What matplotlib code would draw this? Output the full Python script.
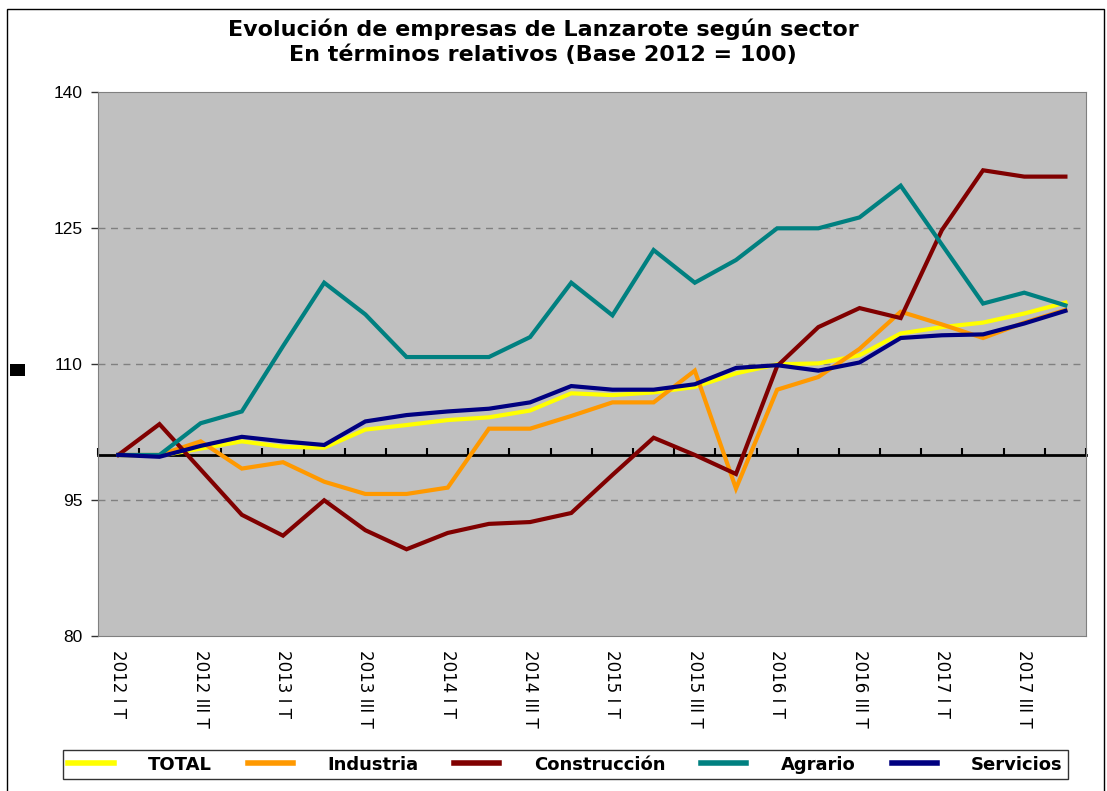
import matplotlib
matplotlib.use("Agg")
import matplotlib.pyplot as plt
from matplotlib.patches import Rectangle

# trimestres 2012 I T ... 2017 IV T
years = [2012, 2013, 2014, 2015, 2016, 2017]
quarters = ["I", "II", "III", "IV"]
categories = [f"{y} {q} T" for y in years for q in quarters]

total = [100, 99.9, 100.7, 101.5, 100.9, 100.8, 102.8, 103.3, 103.85, 104.15, 104.9, 106.8,
         106.6, 106.9, 107.5, 109.0, 110.0, 110.1, 111.0, 113.4, 114.1, 114.6, 115.6, 116.8]
industria = [100, 100, 101.5, 98.5, 99.2, 97.05, 95.7, 95.7, 96.4, 102.9, 102.9, 104.3,
             105.8, 105.8, 109.3, 96.3, 107.2, 108.6, 111.7, 115.8, 114.4, 112.9, 114.6, 116.0]
construccion = [100, 103.4, 98.4, 93.4, 91.1, 95.0, 91.7, 89.6, 91.4, 92.4, 92.6, 93.6,
                97.8, 101.9, 100.0, 97.9, 109.8, 114.1, 116.2, 115.1, 124.8, 131.4, 130.7, 130.7]
agrario = [100, 100, 103.5, 104.8, 112.0, 119.0, 115.5, 110.8, 110.8, 110.8, 113.0, 119.0,
           115.4, 122.6, 119.0, 121.5, 125.0, 125.0, 126.2, 129.7, 123.2, 116.7, 117.9, 116.5]
servicios = [100, 99.8, 101.0, 102.0, 101.5, 101.1, 103.7, 104.4, 104.8, 105.1, 105.8, 107.6,
             107.2, 107.2, 107.8, 109.6, 109.9, 109.3, 110.2, 112.9, 113.2, 113.3, 114.5, 115.9]

series = [("TOTAL", total, "#FFFF00"),
          ("Industria", industria, "#FF9900"),
          ("Construcción", construccion, "#800000"),
          ("Agrario", agrario, "#008080"),
          ("Servicios", servicios, "#000080")]

yticks = [80, 95, 110, 125, 140]

W, H = 1107, 791
fig = plt.figure(figsize=(W / 100, H / 100), dpi=100)
ax = fig.add_axes([97.7 / W, 1 - 636.3 / H, (1086 - 97.7) / W, (636.3 - 92.3) / H])
ax.set_facecolor("#C0C0C0")

x = list(range(len(categories)))
handles = []
for name, vals, col in series:
    h, = ax.plot(x, vals, color=col, lw=3, label=name, solid_joinstyle="miter", zorder=3)
    handles.append(h)

ax.set_xlim(-0.5, len(categories) - 0.5)
ax.set_ylim(80, 140)
ax.set_yticks(yticks)
for v in yticks[1:-1]:
    ax.axhline(v, color="#808080", lw=1, ls=(0, (5, 4)), zorder=1)

for s in ["top", "right", "left"]:
    ax.spines[s].set_color("#808080")
ax.spines["bottom"].set_position(("data", 100))
ax.spines["bottom"].set_color("black")
ax.spines["bottom"].set_linewidth(2)
ax.spines["bottom"].set_zorder(2)
ax.set_xticks([i - 0.5 for i in range(len(categories) + 1)])
ax.tick_params(axis="x", direction="in", length=5, width=1.5, color="black", labelbottom=False)
ax.tick_params(axis="y", direction="out", length=5, width=1, color="#333333", pad=6,
               labelsize=12.5)
for t in ax.get_yticklabels():
    t.set_fontfamily("Liberation Sans")

sec = ax.secondary_xaxis("bottom")
sec.spines["bottom"].set_color("#808080")
sec.set_xticks(x[::2])
sec.set_xticklabels(categories[::2], rotation=270, fontsize=12, va="top", ha="center")
sec.tick_params(length=0, pad=10)

fig.text(543 / W, 1 - 42 / H, "Evolución de empresas de Lanzarote según sector\n"
         "En términos relativos (Base 2012 = 100)", ha="center", va="center",
         fontsize=16, fontweight="bold", linespacing=1.3)

leg = fig.legend(handles=handles, loc="lower left", ncol=5, mode="expand",
                 bbox_to_anchor=(63 / W, 1 - 779 / H, 1005 / W, 32 / H),
                 prop={"weight": "bold", "size": 13}, frameon=True, fancybox=False,
                 edgecolor="black", handlelength=2.5, handletextpad=1.9,
                 borderpad=0.3, borderaxespad=0)
leg.get_frame().set_linewidth(1)
leg._legend_box.set_offset  # keep default packing
for line in leg.get_lines():
    line.set_linewidth(4)

# marco del gráfico y cuadrito negro a la izquierda
fig.patches.append(Rectangle((7 / W, -0.1), (1104 - 7) / W, 1.1 - 9 / H, transform=fig.transFigure,
                             fill=False, edgecolor="black", lw=1))
fig.patches.append(Rectangle((10 / W, 1 - 376 / H), 15 / W, 12 / H, transform=fig.transFigure,
                             facecolor="black", edgecolor="none"))

fig.savefig("out.png", dpi=100)
